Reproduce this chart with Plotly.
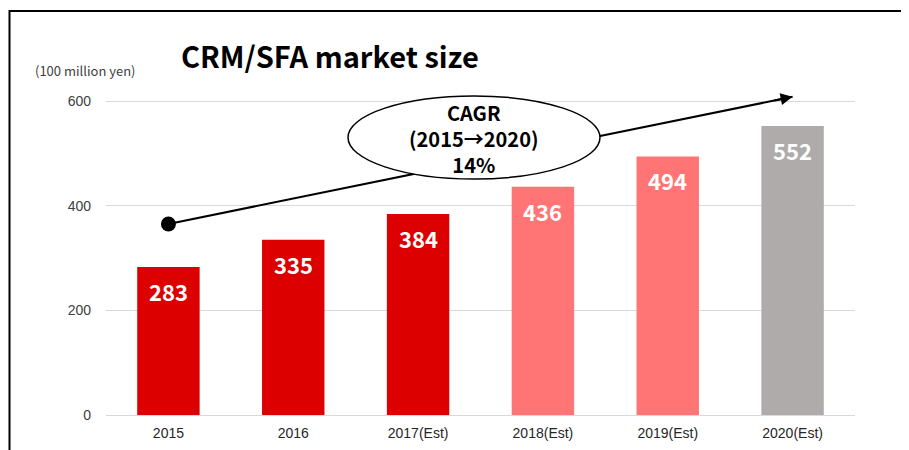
import plotly.graph_objects as go

categories = ["2015", "2016", "2017(Est)", "2018(Est)", "2019(Est)", "2020(Est)"]
values = [283, 335, 384, 436, 494, 552]
bar_colors = ["#DD0000", "#DD0000", "#DD0000", "#FF7575", "#FF7575", "#AFABAB"]
y_ticks = [0, 200, 400, 600]
cagr_start = 365
cagr_end = 608
cagr_lines = ["CAGR", "(2015→2020)", "14%"]

OFF = 8  # page offset of the figure inside the browser window
W, H = 909 - OFF, 450 - OFF
# plot area in screen pixels: x 106..855, y 90..415
L = 106 - OFF
T = 90 - OFF
R = W - (855 - OFF)
B = H - (415 - OFF)
plot_w = W - L - R
plot_h = H - T - B
y_top = 600 * plot_h / 314.0


def px(x):
    return (x - OFF - L) / plot_w


def py(y):
    return (H - B - (y - OFF)) / plot_h


fig = go.Figure()
fig.add_trace(go.Bar(
    x=categories, y=values, marker=dict(color=bar_colors, line=dict(width=0)),
    width=0.5, hoverinfo="skip", showlegend=False,
))
# trend line
fig.add_trace(go.Scatter(
    x=[categories[0], categories[-1]], y=[cagr_start, cagr_end], mode="lines",
    line=dict(color="black", width=2), showlegend=False, hoverinfo="skip",
))
fig.add_trace(go.Scatter(
    x=[categories[0]], y=[cagr_start], mode="markers",
    marker=dict(color="black", size=15), showlegend=False, hoverinfo="skip",
))

annotations = []
for i, v in enumerate(values):
    annotations.append(dict(
        x=i, y=v, xref="x", yref="y", text=f"<b>{v}</b>", showarrow=False,
        yanchor="middle", yshift=-24,
        font=dict(family="Noto Sans CJK JP, Arial", size=22, color="white"),
    ))

# arrow head (offset in pixels along the trend line direction)
n = len(categories) - 1
dx_px = n * plot_w / len(categories)
dy_px = (cagr_end - cagr_start) * plot_h / y_top
length = (dx_px ** 2 + dy_px ** 2) ** 0.5
seg = 20
annotations.append(dict(
    x=n, y=cagr_end, xref="x", yref="y",
    ax=-seg * dx_px / length, ay=seg * dy_px / length,
    text="", showarrow=True,
    arrowhead=2, arrowsize=1.2, arrowwidth=2, arrowcolor="black",
))

annotations.append(dict(
    x=px(474), y=py(138), xref="paper", yref="paper",
    text="<b>" + "<br>".join(cagr_lines) + "</b>", showarrow=False,
    xanchor="center", yanchor="middle", align="center",
    font=dict(family="Noto Sans CJK JP, Arial", size=20, color="black"),
))
annotations.append(dict(
    x=px(179), y=py(55), xref="paper", yref="paper",
    text="<b>CRM/SFA market size</b>", showarrow=False,
    xanchor="left", yanchor="middle",
    font=dict(family="Noto Sans CJK JP, Arial", size=29, color="black"),
))
annotations.append(dict(
    x=px(33), y=py(70), xref="paper", yref="paper",
    text="(100 million yen)", showarrow=False,
    xanchor="left", yanchor="middle",
    font=dict(family="Noto Sans CJK JP, Arial", size=13, color="#404040"),
))

shapes = [
    dict(type="circle", xref="paper", yref="paper",
         x0=px(348), x1=px(600), y0=py(179), y1=py(96),
         fillcolor="white", line=dict(color="black", width=1.5), layer="above"),
    dict(type="rect", xref="paper", yref="paper",
         x0=px(9.5), x1=px(940), y0=py(480), y1=py(11),
         line=dict(color="black", width=2), fillcolor="rgba(0,0,0,0)", layer="above"),
]

fig.update_layout(
    width=W, height=H, margin=dict(l=L, r=R, t=T, b=B, pad=0, autoexpand=False),
    paper_bgcolor="white", plot_bgcolor="white",
    annotations=annotations, shapes=shapes,
    font=dict(family="Arial, Liberation Sans", size=14, color="#404040"),
    xaxis=dict(type="category", range=[-0.5, len(categories) - 0.5],
               showgrid=False, showline=False, ticks="", automargin=False,
               tickfont=dict(size=14, color="#262626"), ticklabelstandoff=8,
               fixedrange=True),
    yaxis=dict(range=[0, y_top], tickvals=y_ticks, showgrid=True, automargin=False,
               gridcolor="#D9D9D9", gridwidth=1, zeroline=True,
               zerolinecolor="#D9D9D9", zerolinewidth=1, showline=False,
               ticks="", tickfont=dict(size=14, color="#404040"),
               ticklabelstandoff=14, fixedrange=True),
)

fig.write_html("out.html")
